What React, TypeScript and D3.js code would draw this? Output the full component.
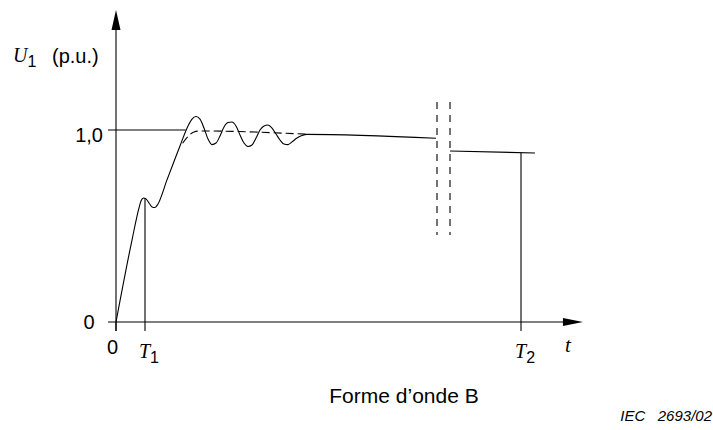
import React from 'react';
import * as d3 from 'd3';

// Waveform B: time (arbitrary units, T2 = 100) and voltage (p.u.)
const waveT = [0, 3.95, 5.68, 6.17, 6.79, 7.41, 8.15, 8.89, 9.63, 10.37, 12.59, 15.8, 17.78, 18.77, 19.75, 20.74, 21.73, 22.72, 23.7, 24.69, 25.68, 26.67, 27.65, 28.64, 29.63, 30.62, 31.6, 32.59, 33.58, 34.57, 35.56, 36.54, 37.53, 38.52, 39.51, 40.49, 41.48, 42.47, 43.46, 44.69, 45.93, 47.16, 79.01];
const waveU = [0, 0.427, 0.594, 0.63, 0.646, 0.641, 0.62, 0.599, 0.596, 0.615, 0.74, 0.917, 1.021, 1.057, 1.07, 1.057, 1.01, 0.953, 0.924, 0.932, 0.969, 1.016, 1.039, 1.042, 1.021, 0.974, 0.932, 0.914, 0.922, 0.958, 1.0, 1.021, 1.026, 1.01, 0.979, 0.948, 0.927, 0.924, 0.938, 0.958, 0.971, 0.977, 0.957];

// Dashed mean curve
const meanT = [16.44, 17.78, 19.26, 20.74, 47.16];
const meanU = [0.931, 0.966, 0.99, 0.995, 0.978];

// Segment after the time break
const afterT = [82.47, 103.46];
const afterU = [0.891, 0.88];

// Time break markers
const breakT = [79.26, 82.47];
const breakU = [0.453, 1.146];

// Reference level 1,0
const refLevel = 1.0;
const refEndT = 17.2;

// Ticks
const yTickValues = [0, 1];
const yTickLabels = ['0', '1,0'];
const xTickValues = [0, 7.16, 100];
const xTickLabels = ['0', 'T1', 'T2'];
const markerTops = [null, 0.645, 0.88];

// Axis extents
const tMin = -1.98;
const tMax = 115.3;
const uMax = 1.625;

const W = 713;
const H = 430;

const SANS = '"Liberation Sans", Arial, sans-serif';
const SERIF = '"Liberation Serif", "Times New Roman", serif';

export default function App() {
  const x = d3.scaleLinear().domain([0, 100]).range([116, 521]);
  const y = d3.scaleLinear().domain([0, 1]).range([322, 130]);

  const wavePts: [number, number][] = waveT.map((t, i) => [t, waveU[i]]);
  const meanPts: [number, number][] = meanT.map((t, i) => [t, meanU[i]]);
  const afterPts: [number, number][] = afterT.map((t, i) => [t, afterU[i]]);

  const smooth = d3
    .line<[number, number]>()
    .x((d) => x(d[0]))
    .y((d) => y(d[1]))
    .curve(d3.curveMonotoneX);
  const straight = d3
    .line<[number, number]>()
    .x((d) => x(d[0]))
    .y((d) => y(d[1]));

  const x0 = x(0);
  const y0 = y(0);
  const tickLen = 9;
  const xEnd = x(tMax);
  const yTop = y(uMax);

  const stroke = '#000';
  const sw = 1.1;

  return (
    <svg
      width={W}
      height={H}
      viewBox={`0 0 ${W} ${H}`}
      style={{ position: 'absolute', left: 0, top: 0, background: '#fff' }}
    >
      <rect x={0} y={0} width={W} height={H} fill="#fff" />
      {/* y axis */}
      <line x1={x0} x2={x0} y1={y0 + tickLen} y2={yTop + 18} stroke={stroke} strokeWidth={sw} />
      <path d={`M${x0},${yTop} L${x0 - 4.5},${yTop + 20} L${x0 + 4.5},${yTop + 20} Z`} fill={stroke} />
      {/* x axis */}
      <line x1={x(tMin)} x2={xEnd - 18} y1={y0} y2={y0} stroke={stroke} strokeWidth={sw} />
      <path d={`M${xEnd},${y0} L${xEnd - 20},${y0 - 4} L${xEnd - 20},${y0 + 4} Z`} fill={stroke} />

      {/* reference level line 1,0 */}
      <line x1={x(tMin)} x2={x(refEndT)} y1={y(refLevel)} y2={y(refLevel)} stroke={stroke} strokeWidth={sw} />

      {/* x tick marks and marker verticals */}
      {xTickValues.map((t, i) => (
        <line
          key={'xt' + i}
          x1={x(t)}
          x2={x(t)}
          y1={y0 + tickLen}
          y2={markerTops[i] == null ? y0 : y(markerTops[i] as number)}
          stroke={stroke}
          strokeWidth={sw}
        />
      ))}

      {/* waveform */}
      <path d={smooth(wavePts) || ''} fill="none" stroke={stroke} strokeWidth={sw} />
      <path d={smooth(meanPts) || ''} fill="none" stroke={stroke} strokeWidth={sw} strokeDasharray="8,4" />
      <path d={straight(afterPts) || ''} fill="none" stroke={stroke} strokeWidth={sw} />

      {/* time break */}
      {breakT.map((t, i) => (
        <line
          key={'br' + i}
          x1={x(t)}
          x2={x(t)}
          y1={y(breakU[1])}
          y2={y(breakU[0])}
          stroke={stroke}
          strokeWidth={sw}
          strokeDasharray="7,6"
        />
      ))}

      {/* y tick labels */}
      {yTickValues.map((v, i) => (
        <text
          key={'yl' + i}
          x={i === 0 ? 94.5 : 103}
          y={y(v) + (i === 0 ? 6.5 : 12)}
          textAnchor="end"
          fontFamily={SANS}
          fontSize={20}
        >
          {yTickLabels[i]}
        </text>
      ))}

      {/* x tick labels */}
      <text x={x(xTickValues[0]) - 3.5} y={354} textAnchor="middle" fontFamily={SANS} fontSize={20}>
        {xTickLabels[0]}
      </text>
      {[1, 2].map((i) => (
        <text key={'xl' + i} x={x(xTickValues[i]) - 6} y={358} fontFamily={SERIF} fontStyle="italic" fontSize={20}>
          {xTickLabels[i].charAt(0)}
          <tspan fontFamily={SANS} fontStyle="normal" fontSize={16} dy={5}>
            {xTickLabels[i].slice(1)}
          </tspan>
        </text>
      ))}

      {/* axis titles */}
      <text x={565} y={352} fontFamily={SERIF} fontStyle="italic" fontSize={21}>
        t
      </text>
      <text x={13} y={62} fontFamily={SERIF} fontStyle="italic" fontSize={20}>
        U
        <tspan fontFamily={SANS} fontStyle="normal" fontSize={16} dy={5}>
          1
        </tspan>
      </text>
      <text x={52} y={63} fontFamily={SANS} fontSize={20}>
        (p.u.)
      </text>

      {/* caption */}
      <text x={404} y={403} textAnchor="middle" fontFamily={SANS} fontSize={21}>
        Forme d’onde B
      </text>
      <text x={712} y={421} textAnchor="end" fontFamily={SANS} fontStyle="italic" fontSize={15} style={{ whiteSpace: 'pre' }}>
        {'IEC   2693/02'}
      </text>
    </svg>
  );
}
